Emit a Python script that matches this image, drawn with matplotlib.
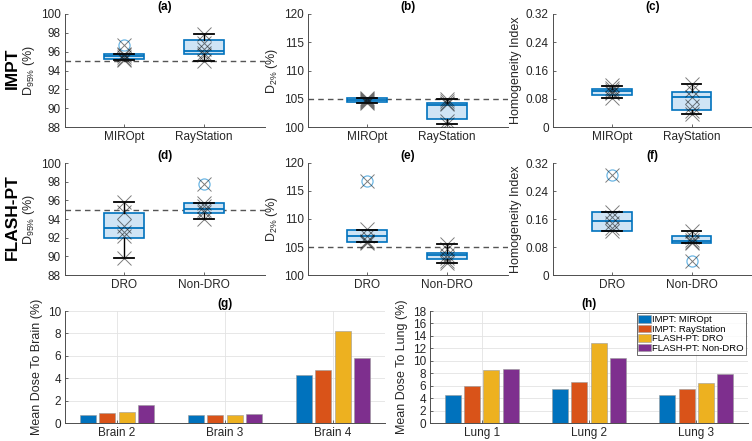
import matplotlib
matplotlib.use("Agg")
import matplotlib.pyplot as plt
import numpy as np

plt.rcParams['font.family'] = ['Liberation Sans', 'DejaVu Sans']
plt.rcParams['font.size'] = 8.5
plt.rcParams['mathtext.default'] = 'regular'

# ======================================================
# DATA
# ======================================================
impt_groups = ["MIROpt", "RayStation"]
flash_groups = ["DRO", "Non-DRO"]

# box stats: [whisker low, q1, median, q3, whisker high]
d95_impt_stats = [[95.15, 95.25, 95.5, 95.8, 95.8], [95.0, 95.7, 96.1, 97.2, 97.9]]
d95_impt_pts = [[95.15, 95.25, 95.45, 95.6, 95.75, 96.7], [95.0, 95.6, 95.9, 96.3, 96.9, 97.9]]
d95_impt_out = [[96.7], []]

d2_impt_stats = [[104.2, 104.4, 104.8, 105.1, 105.2], [100.5, 101.4, 103.9, 104.3, 104.9]]
d2_impt_pts = [[104.2, 104.4, 104.6, 104.8, 105.0, 105.2], [100.5, 101.0, 104.0, 104.2, 104.6, 104.9]]
d2_impt_out = [[], []]

hi_impt_stats = [[0.083, 0.092, 0.101, 0.109, 0.117], [0.036, 0.047, 0.085, 0.099, 0.121]]
hi_impt_pts = [[0.083, 0.095, 0.1, 0.105, 0.11, 0.12], [0.036, 0.045, 0.06, 0.085, 0.105, 0.122]]
hi_impt_out = [[], []]

d95_flash_stats = [[89.8, 92.0, 93.0, 94.6, 95.8], [94.05, 94.65, 95.1, 95.7, 95.7]]
d95_flash_pts = [[89.8, 92.2, 92.6, 93.3, 94.8, 95.8], [94.05, 94.7, 95.0, 95.4, 95.7, 97.8]]
d95_flash_out = [[], [97.8]]

d2_flash_stats = [[105.9, 105.95, 107.0, 108.1, 108.1], [102.1, 102.9, 103.5, 104.0, 105.5]]
d2_flash_pts = [[105.8, 105.9, 106.1, 107.0, 108.2, 116.8], [102.1, 102.5, 103.0, 103.5, 104.6, 105.5]]
d2_flash_out = [[116.8], []]

hi_flash_stats = [[0.126, 0.126, 0.155, 0.18, 0.18], [0.092, 0.092, 0.096, 0.111, 0.127]]
hi_flash_pts = [[0.125, 0.135, 0.15, 0.165, 0.18, 0.285], [0.041, 0.092, 0.095, 0.1, 0.11, 0.127]]
hi_flash_out = [[0.285], [0.041]]

brain_cases = ["Brain 2", "Brain 3", "Brain 4"]
lung_cases = ["Lung 1", "Lung 2", "Lung 3"]
methods = ["IMPT: MIROpt", "IMPT: RayStation", "FLASH-PT: DRO", "FLASH-PT: Non-DRO"]
brain_mean = [[0.71, 0.71, 4.29],   # IMPT: MIROpt
              [0.89, 0.74, 4.70],   # IMPT: RayStation
              [0.98, 0.74, 8.17],   # FLASH-PT: DRO
              [1.57, 0.80, 5.77]]   # FLASH-PT: Non-DRO
lung_mean = [[4.47, 5.43, 4.47],
             [5.96, 6.66, 5.54],
             [8.47, 12.83, 6.39],
             [8.73, 10.44, 7.88]]

bar_colors = ["#0072BD", "#D95319", "#EDB120", "#7E2F8E"]

W, H = 752, 441
fig = plt.figure(figsize=(W / 100, H / 100), dpi=100)


def px_axes(l, t, r, b):
    return fig.add_axes([l / W, 1 - b / H, (r - l) / W, (b - t) / H])


def style(ax):
    for s in ("top", "right"):
        ax.spines[s].set_visible(False)
    for s in ("left", "bottom"):
        ax.spines[s].set_color("#4d4d4d")
        ax.spines[s].set_linewidth(0.7)
    ax.tick_params(direction="in", length=2.5, width=0.6, color="#4d4d4d",
                   labelcolor="#262626", labelsize=8.5, pad=3)


# ======================================================
# BOX PANELS
# ======================================================
def box_panel(rect, stats, pts, outl, labels, ylim, yticks, ylabel, title,
              ref=None, ticklabels=None):
    ax = px_axes(*rect)
    style(ax)
    bstats = []
    for s in stats:
        bstats.append({"whislo": s[0], "q1": s[1], "med": s[2], "q3": s[3],
                       "whishi": s[4], "fliers": []})
    pos = [1, 2]
    if ref is not None:
        ax.axhline(ref, color="#555555", lw=1.0, ls=(0, (4, 3)), zorder=1)
    ax.bxp(bstats, positions=pos, widths=0.5, patch_artist=True,
           showfliers=False, capwidths=0.25,
           boxprops=dict(facecolor="#cfe4f5", edgecolor="#0072BD", lw=1.2),
           medianprops=dict(color="#0072BD", lw=1.3),
           whiskerprops=dict(color="black", lw=1.0),
           capprops=dict(color="black", lw=1.3), zorder=2)
    for p, vals, o in zip(pos, pts, outl):
        if o:
            ax.plot([p] * len(o), o, "o", ms=8, mfc="none", mec="#6cb6e4",
                    mew=0.9, zorder=3)
        ax.plot([p] * len(vals), vals, "x", ms=10, color="#111111",
                alpha=0.55, mew=0.7, zorder=4)
    ax.set_xlim(0.26, 2.76)
    ax.set_ylim(*ylim)
    ax.set_yticks(yticks)
    if ticklabels is not None:
        ax.set_yticklabels(ticklabels)
    ax.set_xticks(pos)
    ax.set_xticklabels(labels)
    ax.set_ylabel(ylabel, fontsize=9, color="#262626", labelpad=3)
    ax.set_title(title, fontsize=8.5, fontweight="bold", pad=3)
    return ax


hi_ticks = [0, 0.08, 0.16, 0.24, 0.32]
hi_labels = ["0", "0.08", "0.16", "0.24", "0.32"]

box_panel((65, 14, 265, 127), d95_impt_stats, d95_impt_pts, d95_impt_out,
          impt_groups, (88, 100), range(88, 101, 2), "D$_{95\\%}$ (%)", "(a)", ref=95)
box_panel((308, 14, 508, 127), d2_impt_stats, d2_impt_pts, d2_impt_out,
          impt_groups, (100, 120), range(100, 121, 5), "D$_{2\\%}$ (%)", "(b)", ref=105)
box_panel((553, 14, 752, 127), hi_impt_stats, hi_impt_pts, hi_impt_out,
          impt_groups, (0, 0.32), hi_ticks, "Homogeneity Index", "(c)",
          ticklabels=hi_labels)

box_panel((65, 163, 265, 275), d95_flash_stats, d95_flash_pts, d95_flash_out,
          flash_groups, (88, 100), range(88, 101, 2), "D$_{95\\%}$ (%)", "(d)", ref=95)
box_panel((308, 163, 508, 275), d2_flash_stats, d2_flash_pts, d2_flash_out,
          flash_groups, (100, 120), range(100, 121, 5), "D$_{2\\%}$ (%)", "(e)", ref=105)
box_panel((553, 163, 752, 275), hi_flash_stats, hi_flash_pts, hi_flash_out,
          flash_groups, (0, 0.32), hi_ticks, "Homogeneity Index", "(f)",
          ticklabels=hi_labels)

fig.text(12 / W, 1 - 68 / H, "IMPT", rotation=90, fontsize=12.5,
         fontweight="bold", ha="center", va="center")
fig.text(12 / W, 1 - 217 / H, "FLASH-PT", rotation=90, fontsize=12.5,
         fontweight="bold", ha="center", va="center")


# ======================================================
# BAR PANELS
# ======================================================
def bar_panel(rect, cases, values, ylim, yticks, ylabel, title, legend=False):
    ax = px_axes(*rect)
    style(ax)
    x = np.arange(1, len(cases) + 1)
    for i, (vals, c) in enumerate(zip(values, bar_colors)):
        ax.bar(x + (i - 1.5) * 0.18, vals, width=0.15, color=c,
               edgecolor="#9a9a9a", lw=0.4, label=methods[i], zorder=3)
    ax.set_xlim(0.52, len(cases) + 0.48)
    ax.set_ylim(*ylim)
    ax.set_yticks(yticks)
    ax.set_xticks(x)
    ax.set_xticklabels(cases)
    ax.grid(True, color="#e3e3e3", lw=0.6, zorder=0)
    ax.set_axisbelow(True)
    ax.set_ylabel(ylabel, fontsize=9, color="#262626", labelpad=3)
    ax.set_title(title, fontsize=8.5, fontweight="bold", pad=3)
    if legend:
        leg = ax.legend(loc="upper right", fontsize=6.8, frameon=True,
                        fancybox=False, borderpad=0.2, labelspacing=0.05,
                        handlelength=1.3, handleheight=0.8, handletextpad=0.15,
                        borderaxespad=0.25)
        leg.get_frame().set_edgecolor("#262626")
        leg.get_frame().set_linewidth(0.6)
    return ax


bar_panel((65, 311, 385, 423), brain_cases, brain_mean, (0, 10),
          range(0, 11, 2), "Mean Dose To Brain (%)", "(g)")
bar_panel((430, 311, 748, 423), lung_cases, lung_mean, (0, 18),
          range(0, 19, 2), "Mean Dose To Lung (%)", "(h)", legend=True)

fig.savefig("out.png", dpi=100)
